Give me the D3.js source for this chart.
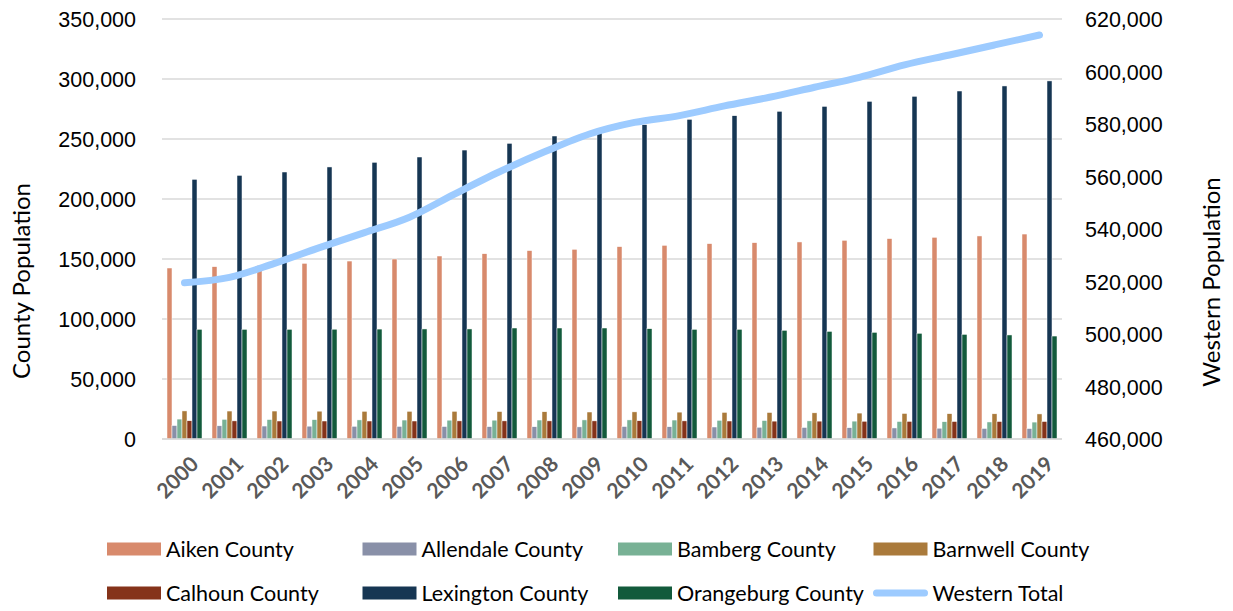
<!DOCTYPE html>
<html>
<head>
<meta charset="utf-8">
<script src="https://cdn.jsdelivr.net/npm/d3@7"></script>
<style>
    body { margin: 0; background: #fff; }
    svg { font-family: Lato, "Open Sans", sans-serif; }
</style>
</head>
<body>
<svg id="chart" width="1233" height="611"></svg>
<script>
// data
let years = ["2000", "2001", "2002", "2003", "2004", "2005", "2006", "2007", "2008", "2009",
    "2010", "2011", "2012", "2013", "2014", "2015", "2016", "2017", "2018", "2019"]

let counties = ["Aiken County", "Allendale County", "Bamberg County", "Barnwell County",
    "Calhoun County", "Lexington County", "Orangeburg County"]

let aiken = [142500, 143600, 144700, 146400, 148300, 150000, 152500, 154400, 157000, 158100,
    160300, 161400, 162800, 163600, 164200, 165600, 167000, 168100, 169200, 170800]
let allendale = [11200, 11000, 10800, 10700, 10600, 10500, 10400, 10300, 10200, 10100,
    10400, 10200, 10000, 9800, 9600, 9400, 9200, 9000, 8800, 8700]
let bamberg = [16600, 16400, 16200, 16100, 15900, 15800, 15700, 15700, 15800, 15900,
    15900, 15800, 15600, 15400, 15100, 14900, 14600, 14400, 14200, 14100]
let barnwell = [23400, 23300, 23300, 23200, 23100, 23100, 23100, 22900, 22700, 22500,
    22600, 22400, 22200, 22100, 21800, 21600, 21300, 21100, 21000, 20900]
let calhoun = [15200, 15100, 15000, 15000, 15000, 15000, 15100, 15100, 15100, 15100,
    15200, 15100, 15000, 14900, 14900, 14800, 14700, 14600, 14600, 14600]
let lexington = [216400, 219700, 222500, 226700, 230600, 235000, 240800, 246400, 252500, 258600,
    261900, 266400, 269400, 273100, 277200, 281400, 285600, 290000, 294200, 298400]
let orangeburg = [91400, 91400, 91400, 91500, 91600, 91700, 91700, 92500, 92500, 92500,
    91900, 91400, 91400, 90600, 89700, 88900, 88100, 87200, 86700, 85800]

let westernTotal = [519500, 521600, 526900, 532900, 538600, 544500, 553300, 561800, 569400, 576200,
    580600, 583200, 586900, 590200, 594000, 597800, 602500, 606300, 610100, 613900]

let leftTicks = [0, 50000, 100000, 150000, 200000, 250000, 300000, 350000]
let rightTicks = [460000, 480000, 500000, 520000, 540000, 560000, 580000, 600000, 620000]

let countyValues = [aiken, allendale, bamberg, barnwell, calhoun, lexington, orangeburg]
let countyColors = ["#d88a6c", "#8990a8", "#78b195", "#aa7a3b", "#85331a", "#163653", "#125a3b"]
let lineColor = "#9dcbff"

let svg = d3.select("#chart")
let margin = { top: 19, bottom: 439, left: 162, right: 1062 }
let fmt = d3.format(",")

// 比例尺
let xScale = d3.scaleBand()
    .domain(years)
    .range([margin.left, margin.right])
    .paddingInner(0.222)
    .paddingOuter(0.111)

let xInner = d3.scaleBand()
    .domain(counties)
    .range([0, xScale.bandwidth()])

let yLeft = d3.scaleLinear()
    .domain([0, 350000])
    .range([margin.bottom, margin.top])

let yRight = d3.scaleLinear()
    .domain([460000, 620000])
    .range([margin.bottom, margin.top])

// gridlines
svg.append("g")
    .selectAll("line")
    .data(leftTicks)
    .enter()
    .append("line")
    .attr("x1", margin.left)
    .attr("x2", margin.right)
    .attr("y1", d => yLeft(d))
    .attr("y2", d => yLeft(d))
    .attr("stroke", "#d9d9d9")
    .attr("stroke-width", 1.5)

// left axis
let leftAxis = svg.append("g")
    .attr("transform", "translate(" + (margin.left - 23) + ",0)")
    .call(d3.axisLeft(yLeft).tickValues(leftTicks).tickFormat(fmt).tickSize(0))
leftAxis.select(".domain").remove()
leftAxis.selectAll("text")
    .attr("font-size", 21.5)
    .attr("fill", "#000")
    .attr("dy", "0.35em")

// right axis
let rightAxis = svg.append("g")
    .attr("transform", "translate(" + (margin.right + 20) + ",0)")
    .call(d3.axisRight(yRight).tickValues(rightTicks).tickFormat(fmt).tickSize(0))
rightAxis.select(".domain").remove()
rightAxis.selectAll("text")
    .attr("font-size", 21.5)
    .attr("fill", "#000")
    .attr("dy", "0.35em")

// x axis labels
svg.append("g")
    .selectAll("text")
    .data(years)
    .enter()
    .append("text")
    .attr("transform", d => "translate(" + (xScale(d) + xScale.bandwidth() / 2 + 5) + ",455) rotate(-45)")
    .attr("text-anchor", "end")
    .attr("dy", "0.7em")
    .attr("font-size", 21)
    .attr("font-weight", "bold")
    .attr("fill", "#595959")
    .text(d => d)

// axis titles
svg.append("text")
    .attr("transform", "translate(30,281) rotate(-90)")
    .attr("text-anchor", "middle")
    .attr("font-size", 24)
    .attr("fill", "#000")
    .text("County Population")

svg.append("text")
    .attr("transform", "translate(1220,282) rotate(-90)")
    .attr("text-anchor", "middle")
    .attr("font-size", 24)
    .attr("fill", "#000")
    .text("Western Population")

// bars
counties.forEach((c, ci) => {
    svg.append("g")
        .selectAll("rect")
        .data(countyValues[ci])
        .enter()
        .append("rect")
        .attr("x", (d, i) => xScale(years[i]) + xInner(c))
        .attr("y", d => yLeft(d))
        .attr("width", xInner.bandwidth())
        .attr("height", d => margin.bottom - yLeft(d))
        .attr("fill", countyColors[ci])
        .attr("stroke", "#fff")
        .attr("stroke-width", 0.5)
})

// axis baseline
svg.append("line")
    .attr("x1", margin.left)
    .attr("x2", margin.right)
    .attr("y1", margin.bottom)
    .attr("y2", margin.bottom)
    .attr("stroke", "#d9d9d9")
    .attr("stroke-width", 1.5)

// 线生成器
let lineGen = d3.line()
    .x((d, i) => xScale(years[i]) + xScale.bandwidth() / 2)
    .y(d => yRight(d))
    .curve(d3.curveMonotoneX)

svg.append("path")
    .attr("d", lineGen(westernTotal))
    .attr("fill", "none")
    .attr("stroke", lineColor)
    .attr("stroke-width", 7)
    .attr("stroke-linecap", "round")
    .attr("stroke-linejoin", "round")

// legend
let legendItems = counties.concat(["Western Total"])
let legend = svg.append("g")
    .selectAll("g")
    .data(legendItems)
    .enter()
    .append("g")
    .attr("transform", (d, i) => "translate(" + (107 + (i % 4) * 255.5) + "," + (549 + Math.floor(i / 4) * 44) + ")")

legend.each(function (d, i) {
    let g = d3.select(this)
    if (i < counties.length) {
        g.append("rect")
            .attr("x", 0)
            .attr("y", -6.5)
            .attr("width", 54)
            .attr("height", 13)
            .attr("fill", countyColors[i])
    } else {
        g.append("line")
            .attr("x1", 3)
            .attr("x2", 51)
            .attr("y1", 0)
            .attr("y2", 0)
            .attr("stroke", lineColor)
            .attr("stroke-width", 7)
            .attr("stroke-linecap", "round")
    }
    g.append("text")
        .attr("x", 59)
        .attr("y", 0)
        .attr("dy", "0.35em")
        .attr("font-size", 21.5)
        .attr("fill", "#000")
        .text(d)
})
</script>
</body>
</html>
